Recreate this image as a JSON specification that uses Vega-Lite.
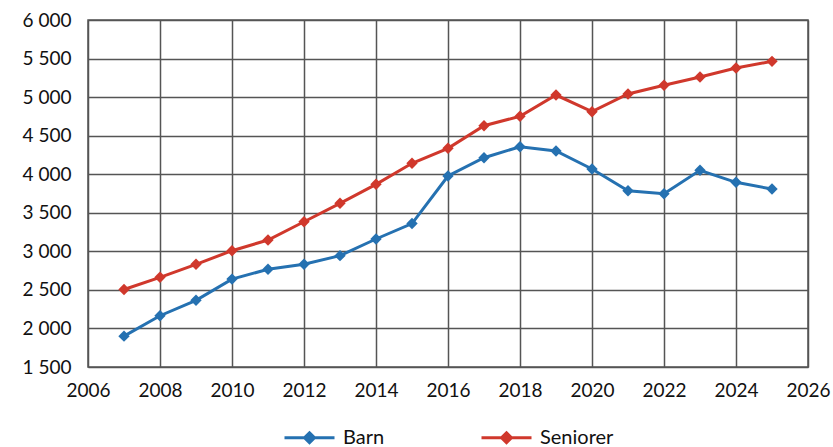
{
  "$schema": "https://vega.github.io/schema/vega-lite/v6.json",
  "width": 720,
  "height": 347,
  "autosize": "none",
  "padding": {"left": 88, "top": 20, "right": 25, "bottom": 80},
  "background": "white",
  "config": {
    "font": "Lato",
    "view": {"stroke": "#555555", "strokeWidth": 1.5},
    "axis": {
      "gridColor": "#555555", "gridWidth": 1.5, "gridOpacity": 1,
      "domain": false, "ticks": false, "labelFlush": false, "labelOverlap": false,
      "labelFont": "Lato", "labelFontSize": 19, "labelColor": "#111111",
      "labelPadding": 14, "title": null
    }
  },
  "data": {"values": [
    {"year": 2007, "series": "Barn", "value": 1900},
    {"year": 2008, "series": "Barn", "value": 2165},
    {"year": 2009, "series": "Barn", "value": 2365},
    {"year": 2010, "series": "Barn", "value": 2640},
    {"year": 2011, "series": "Barn", "value": 2767},
    {"year": 2012, "series": "Barn", "value": 2832},
    {"year": 2013, "series": "Barn", "value": 2944},
    {"year": 2014, "series": "Barn", "value": 3160},
    {"year": 2015, "series": "Barn", "value": 3360},
    {"year": 2016, "series": "Barn", "value": 3977},
    {"year": 2017, "series": "Barn", "value": 4214},
    {"year": 2018, "series": "Barn", "value": 4357},
    {"year": 2019, "series": "Barn", "value": 4301},
    {"year": 2020, "series": "Barn", "value": 4068},
    {"year": 2021, "series": "Barn", "value": 3786},
    {"year": 2022, "series": "Barn", "value": 3747},
    {"year": 2023, "series": "Barn", "value": 4051},
    {"year": 2024, "series": "Barn", "value": 3895},
    {"year": 2025, "series": "Barn", "value": 3808},
    {"year": 2007, "series": "Seniorer", "value": 2505},
    {"year": 2008, "series": "Seniorer", "value": 2663},
    {"year": 2009, "series": "Seniorer", "value": 2832},
    {"year": 2010, "series": "Seniorer", "value": 3008},
    {"year": 2011, "series": "Seniorer", "value": 3147},
    {"year": 2012, "series": "Seniorer", "value": 3384},
    {"year": 2013, "series": "Seniorer", "value": 3623},
    {"year": 2014, "series": "Seniorer", "value": 3869},
    {"year": 2015, "series": "Seniorer", "value": 4142},
    {"year": 2016, "series": "Seniorer", "value": 4336},
    {"year": 2017, "series": "Seniorer", "value": 4629},
    {"year": 2018, "series": "Seniorer", "value": 4751},
    {"year": 2019, "series": "Seniorer", "value": 5027},
    {"year": 2020, "series": "Seniorer", "value": 4811},
    {"year": 2021, "series": "Seniorer", "value": 5040},
    {"year": 2022, "series": "Seniorer", "value": 5153},
    {"year": 2023, "series": "Seniorer", "value": 5261},
    {"year": 2024, "series": "Seniorer", "value": 5378},
    {"year": 2025, "series": "Seniorer", "value": 5464}
  ]},
  "encoding": {
    "x": {
      "field": "year", "type": "quantitative",
      "scale": {"domain": [2006, 2026], "nice": false, "zero": false},
      "axis": {"values": [2006, 2008, 2010, 2012, 2014, 2016, 2018, 2020, 2022, 2024, 2026], "format": "d"}
    },
    "y": {
      "field": "value", "type": "quantitative",
      "scale": {"domain": [1500, 6000], "nice": false, "zero": false},
      "axis": {"values": [1500, 2000, 2500, 3000, 3500, 4000, 4500, 5000, 5500, 6000],
               "labelExpr": "replace(format(datum.value, ','), ',', ' ')", "labelPadding": 17}
    },
    "color": {
      "field": "series", "type": "nominal",
      "scale": {"domain": ["Barn", "Seniorer"], "range": ["#2571b1", "#d0382c"]},
      "legend": {
        "title": null, "orient": "none", "direction": "horizontal",
        "legendX": 195, "legendY": 391,
        "symbolType": "M-1,0H1M0,-0.2L0.2,0L0,0.2L-0.2,0Z",
        "symbolSize": 2500, "symbolStrokeWidth": 3,
        "labelFont": "Lato", "labelFontSize": 20, "labelColor": "#111111",
        "labelOffset": 7, "columnPadding": 90,
        "encode": {"symbols": {"update": {"fill": {"scale": "color", "field": "value"}, "stroke": {"scale": "color", "field": "value"}, "fillOpacity": {"value": 1}}}}
      }
    }
  },
  "layer": [
    {"mark": {"type": "line", "strokeWidth": 3}},
    {"mark": {"type": "point", "shape": "diamond", "filled": true, "size": 130, "opacity": 1}}
  ]
}
